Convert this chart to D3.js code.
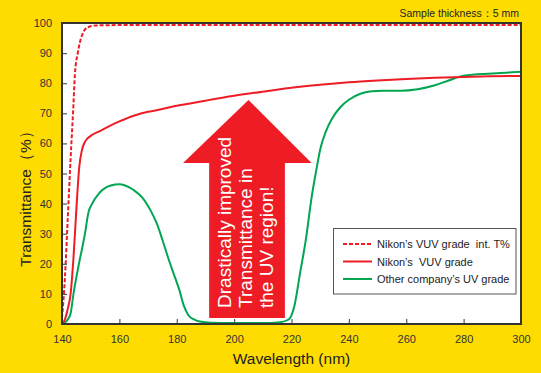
<!DOCTYPE html>
<html>
<head>
<meta charset="utf-8">
<script src="https://cdn.jsdelivr.net/npm/d3@7"></script>
<style>
html,body{margin:0;padding:0;background:#FFDC00;}
svg{display:block;}
text{font-family:"Liberation Sans",Arial,sans-serif;}
</style>
</head>
<body>
<svg id="chart" width="541" height="373"></svg>
<script>
// ---- data ----
const xTicks = [140,160,180,200,220,240,260,280,300];
const yTicks = [0,10,20,30,40,50,60,70,80,90,100];

const intWave = [140,141,142,143,144,144.5,145.5,147,149,152,160,200,300];
const intT    = [2,15,35,55,73,83,90,96,98.6,99.2,99.3,99.3,99.3];

const vuvWave = [140,141,142,143,144,145,146,147,148,150,153,156,160,165,170,173,180,190,200,210,220,230,240,250,260,270,280,290,300];
const vuvT    = [0,1.5,5,10,22,38,52,58,60.5,62.5,64,65.5,67.3,69.2,70.5,71,72.5,74.2,75.8,77.2,78.5,79.5,80.3,80.9,81.4,81.8,82.1,82.3,82.4];

const uvWave = [140,141,142,143,144,145.7,148,149.2,150.5,153,157,160,162,165,168,171,173,175,177,179,181,182.5,184,186,188,192,200,210,216,219,221,223,225,227,229,230,232,234,237,240,244,248,252,258,264,270,275,280,290,300];
const uvT    = [0,0.5,1.5,3.5,10,19,30,37,40,43.5,46,46.4,46,44.5,42,37.5,33.5,28,22,16.5,11,6,3,1.5,0.8,0.4,0.3,0.3,0.6,1.5,6,17,28,42,53,58,64,68,72,74.5,76.5,77.3,77.5,77.5,78,79.3,81,82.5,83.2,83.8];

const seriesNames = ["Nikon\u2019s VUV grade  int. T%", "Nikon\u2019s  VUV grade", "Other company\u2019s UV grade"];
const arrowLines = ["Drastically improved","Transmittance in","the UV region!"];

// ---- layout ----
const RED = "#EE1C25", GREEN = "#00A651";
const svg = d3.select("#chart");
const L = 62, R = 521, T = 23, B = 324;
const x = d3.scaleLinear().domain([140,300]).range([L,R]);
const y = d3.scaleLinear().domain([0,100]).range([B,T]);

svg.append("rect").attr("width",541).attr("height",373).attr("fill","#FFDC00");
svg.append("rect").attr("x",L).attr("y",T).attr("width",R-L).attr("height",B-T).attr("fill","#fff");

svg.append("defs").append("clipPath").attr("id","clip")
  .append("rect").attr("x",L).attr("y",T-3).attr("width",R-L).attr("height",B-T+3);

const g = svg.append("g").attr("clip-path","url(#clip)");
const line = d3.line().x(d=>x(d[0])).y(d=>y(d[1])).curve(d3.curveMonotoneX);
const zip = (a,b)=>a.map((v,i)=>[v,b[i]]);

// arrow annotation (data coordinates)
const arrow = [[205,74.4],[227,53.5],[217.7,53.5],[217.7,2],[191.3,2],[191.3,53.5],[182.2,53.5]];
g.append("path")
  .attr("d", d3.line().x(d=>x(d[0])).y(d=>y(d[1]))(arrow)+"Z")
  .attr("fill",RED);

g.append("path").attr("d",line(zip(uvWave,uvT))).attr("fill","none").attr("stroke",GREEN).attr("stroke-width",2);
g.append("path").attr("d",line(zip(vuvWave,vuvT))).attr("fill","none").attr("stroke",RED).attr("stroke-width",2);
g.append("path").attr("d",line(zip(intWave,intT))).attr("fill","none").attr("stroke",RED).attr("stroke-width",2).attr("stroke-dasharray","4,2");

// arrow text
const at = svg.append("text")
  .attr("transform",`translate(${x(191.3)+22},${y(2)-10}) rotate(-90)`)
  .attr("fill","#fff").attr("font-size",19);
arrowLines.forEach((s,i)=>{
  at.append("tspan").attr("x",0).attr("dy", i===0?0:21).text(s);
});

// axes
const axL = svg.append("g").attr("transform",`translate(${L},0)`)
  .call(d3.axisLeft(y).tickValues(yTicks).tickSize(-5).tickPadding(10));
const axB = svg.append("g").attr("transform",`translate(0,${B})`)
  .call(d3.axisBottom(x).tickValues(xTicks).tickSize(-5).tickPadding(11));
[axL,axB].forEach(a=>{
  a.select(".domain").remove();
  a.selectAll(".tick line").attr("stroke","#555").attr("stroke-width",1.2);
  a.selectAll(".tick text").attr("fill","#333").attr("font-size",11).attr("font-family","Liberation Sans, Arial, sans-serif");
});
axL.selectAll(".tick").filter(d=>d===0||d===100).select("line").remove();
axB.selectAll(".tick").filter(d=>d===140||d===300).select("line").remove();

// frame
svg.append("rect").attr("x",L).attr("y",T).attr("width",R-L).attr("height",B-T)
  .attr("fill","none").attr("stroke","#333").attr("stroke-width",2);

// axis titles
svg.append("text").attr("x",(L+R)/2).attr("y",364).attr("text-anchor","middle")
  .attr("font-size",15.5).attr("fill","#222").text("Wavelength (nm)");
svg.append("text").attr("transform","translate(31,195) rotate(-90)").attr("text-anchor","middle")
  .attr("font-size",15.5).attr("fill","#222").text("Transmittance\uFF08%\uFF09");

svg.append("text").attr("x",519).attr("y",17).attr("text-anchor","end")
  .attr("font-size",10.5).attr("fill","#222").text("Sample thickness\uFF1A5 mm");

// legend
const lg = svg.append("g");
lg.append("rect").attr("x",333.5).attr("y",228.5).attr("width",182.5).attr("height",65.5)
  .attr("fill","#fff").attr("stroke","#555").attr("stroke-width",1);
const styles = [{c:RED,d:"4,2"},{c:RED,d:null},{c:GREEN,d:null}];
seriesNames.forEach((n,i)=>{
  const yy = 244 + i*17.5;
  lg.append("line").attr("x1",343).attr("x2",372).attr("y1",yy).attr("y2",yy)
    .attr("stroke",styles[i].c).attr("stroke-width",2).attr("stroke-dasharray",styles[i].d);
  lg.append("text").attr("x",377).attr("y",yy+4).attr("font-size",11).attr("fill","#222")
    .attr("xml:space","preserve").style("white-space","pre").text(n);
});
</script>
</body>
</html>
